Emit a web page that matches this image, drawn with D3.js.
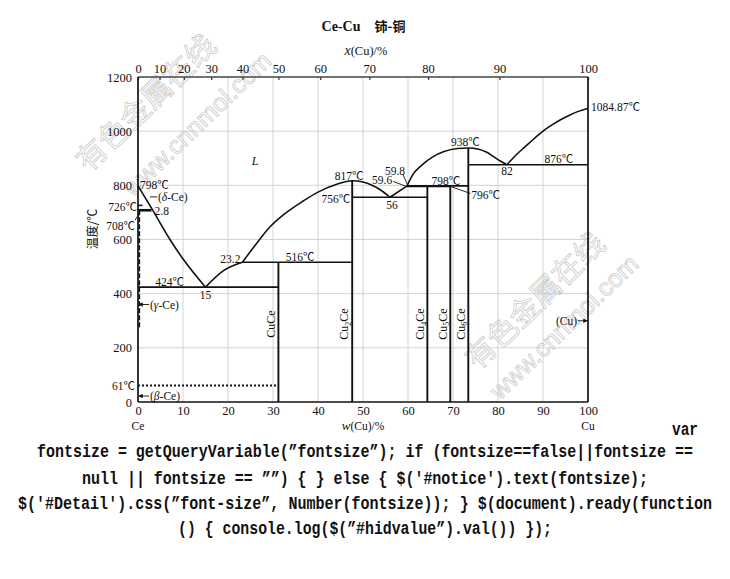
<!DOCTYPE html>
<html><head><meta charset="utf-8">
<script src="https://cdn.jsdelivr.net/npm/d3@7"></script>
<style>body{margin:0;background:#fff}</style>
</head><body>
<svg id="c" width="730" height="579"></svg>
<script>
// ---------- data ----------
const wtTicks = [0,10,20,30,40,50,60,70,80,90,100];
const atTicks = [0,10,20,30,40,50,60,70,80,90,100];
const tempTicks = [0,200,400,600,800,1000,1200];
const gridWt = [10,20,30,40,50,60,70,80,90];
const gridT = [200,400,600,800,1000];

const compounds = ["CuCe","Cu2Ce","Cu4Ce","Cu5Ce","Cu6Ce"];
const compoundWt = [31.2,47.6,64.3,69.4,73.4];
const compoundTop = [516,817,798,798,938];

const liqCe = [[0,798],[3,716],[7.1,600],[10.1,526],[15,424]];
const liq15 = [[15,424],[19,485],[23.2,516]];
const liqCu2Ce = [[23.2,516],[26,578],[29.3,646],[33,700],[36.7,742],[40,775],[44,803],[47.6,817],[50,812],[52,800],[54,782],[56,756]];
const liq56 = [[56,756],[59.8,798]];
const liqCu6Ce = [[59.8,798],[61,838],[63,874],[65.6,906],[68,925],[71,936],[73.4,938],[75.5,934],[77.5,922],[79,906],[80.5,890],[82,876]];
const liqCu = [[82,876],[84,912],[86,942],[88,972],[90,1000],[92,1023],[94,1043],[96,1060],[98,1074],[100,1085]];

// isotherms: [from wt, to wt, temperature]
const isotherms = [[0,31.2,424],[23.2,47.6,516],[47.6,64.3,756],[59.6,69.4,796],[59.8,73.4,798],[73.4,100,876],[0,3,708],[0,1,726]];
const eutectoid61 = [[0,61],[31.2,61]];
const gammaSolvus = [[0.3,708],[0.3,272]];

const annText = ["798℃","(δ-Ce)","726℃","2.8","708℃","424℃","15","23.2","516℃","817℃","756℃","56","59.6","59.8","798℃","938℃","796℃","876℃","82","1084.87℃","(γ-Ce)","61℃","(β-Ce)","(Cu)"];
const annAt = [[0,798],[0,798],[0,726],[2.8,708],[0,708],[7,424],[15,424],[23.2,516],[36,516],[47.6,817],[47.6,756],[56,756],[59.6,796],[59.8,798],[68.4,798],[73.4,938],[69.4,796],[93.5,876],[82,876],[100,1084.87],[0,360],[0,61],[0,22],[100,300]];

const title = "Ce-Cu";
const titleZh = "铈-铜";
const topTitle = "(Cu)/%";
const yTitle = "温度/℃";
const bottomTitle = "(Cu)/%";
const endLabels = ["Ce","Cu"];
const wmText = ["有色金属在线","www.cnnmol.com"];
const codeLines = [
  "var",
  "fontsize = getQueryVariable(”fontsize”); if (fontsize==false||fontsize ==",
  "null || fontsize == ””) { } else { $('#notice').text(fontsize);",
  "$('#Detail').css(”font-size”, Number(fontsize)); } $(document).ready(function",
  "() { console.log($(”#hidvalue”).val()) });"
];

// ---------- layout ----------
const annOff = [[2,-1,"start"],[20,11,"start"],[-1,2,"end"],[4,1,"start"],[-3,16,"end"],[0,-5,"middle"],[0,8,"middle"],[-2,-3,"end"],[0,-5,"middle"],[-3,-5,"middle"],[-2,2,"end"],[2,8,"middle"],[-14,-6,"end"],[-2,-15,"end"],[0,-5,"middle"],[-3,-6,"middle"],[21,9,"start"],[0,-6,"middle"],[0,6,"middle"],[3,-1.5,"start"],[12,0,"start"],[-3,0,"end"],[12,0,"start"],[-11,0,"end"]];
const codeBox = [[672,698,429],[37,693,451],[82,648,477.5],[18,712,503],[178,552,528]];
const wmPos = [[146,103,30],[197,124,25],[535,301,30],[564,327,25]];

const serif = "'Liberation Serif','Times New Roman','Noto Sans CJK SC',serif";
const svg = d3.select("#c");
svg.append("rect").attr("width",730).attr("height",579).attr("fill","#fff");

const x = d3.scaleLinear().domain([0,100]).range([138,588]);
const y = d3.scaleLinear().domain([0,1200]).range([402,77]);
const atToWt = a => a*63.546/(a*63.546+(100-a)*140.116)*100;

// grid
const grid = svg.append("g").attr("stroke","#cfcfcf").attr("stroke-width",0.9);
grid.selectAll("line.v").data(gridWt).join("line").attr("class","v")
  .attr("x1",d=>x(d)).attr("x2",d=>x(d)).attr("y1",y(0)).attr("y2",y(1200));
grid.selectAll("line.h").data(gridT).join("line").attr("class","h")
  .attr("x1",x(0)).attr("x2",x(100)).attr("y1",d=>y(d)).attr("y2",d=>y(d));

// watermark
const wm = svg.append("g").attr("fill","none").attr("stroke","#c8c8c8").attr("stroke-width",0.75);
wmPos.forEach((p,i)=>{
  wm.append("text").attr("transform",`translate(${p[0]},${p[1]}) rotate(-44)`)
    .attr("text-anchor","middle").attr("dy","0.35em")
    .style("font-family", i%2===0 ? "'Noto Sans CJK SC',sans-serif" : "'Liberation Sans',Arial,sans-serif")
    .style("font-size",p[2]+"px").text(wmText[i%2]);
});

// axes
function styleAxis(g){ g.attr("font-family",null); g.select(".domain").remove(); g.selectAll("text").style("font-family",serif).style("font-size","12.5px").attr("fill","#111"); }
svg.append("g").attr("transform",`translate(${x(0)},0)`)
  .call(d3.axisLeft(y).tickValues(tempTicks).tickFormat(d3.format("d")).tickSize(0).tickPadding(6)).call(styleAxis);
svg.append("g").attr("transform",`translate(0,${y(0)})`)
  .call(d3.axisBottom(x).tickValues(wtTicks).tickFormat(d3.format("d")).tickSize(0).tickPadding(4)).call(styleAxis);
const gTop = svg.append("g").attr("transform",`translate(0,${y(1200)})`)
  .call(d3.axisTop(x).tickValues(atTicks.map(atToWt)).tickFormat((d,i)=>atTicks[i]).tickSizeInner(-3).tickSizeOuter(0).tickPadding(4))
  .call(styleAxis);
gTop.selectAll(".tick line").attr("stroke","#333").attr("stroke-width",1.2);

// frame
const fr = svg.append("g").attr("stroke","#111").attr("stroke-width",1.7);
fr.append("line").attr("x1",x(0)).attr("x2",x(100)).attr("y1",y(1200)).attr("y2",y(1200)).attr("stroke","#444").attr("stroke-width",1.5);
fr.append("line").attr("x1",x(0)).attr("x2",x(0)).attr("y1",y(0)).attr("y2",y(1200));
fr.append("line").attr("x1",x(0)).attr("x2",x(100)).attr("y1",y(0)).attr("y2",y(0));
fr.append("line").attr("x1",x(100)).attr("x2",x(100)).attr("y1",y(0)).attr("y2",y(1200));

// phase lines
const ln = d3.line().x(d=>x(d[0])).y(d=>y(d[1]));
const pl = svg.append("g").attr("fill","none").attr("stroke","#111").attr("stroke-width",1.6);
[liqCe,liq15,liqCu2Ce,liqCu6Ce,liqCu].forEach(s=>pl.append("path").attr("d",ln.curve(d3.curveMonotoneX)(s)));
pl.append("path").attr("d",ln.curve(d3.curveLinear)(liq56));
isotherms.forEach((s,i)=>pl.append("line").attr("x1",x(s[0])).attr("x2",x(s[1])).attr("y1",y(s[2])).attr("y2",y(s[2]))
  .attr("stroke-width", i===6 ? 2.6 : 1.6));
compoundWt.forEach((w,i)=>pl.append("line").attr("x1",x(w)).attr("x2",x(w)).attr("y1",y(0)).attr("y2",y(compoundTop[i])).attr("stroke-width",1.9));
pl.append("path").attr("d",ln.curve(d3.curveLinear)(eutectoid61)).attr("stroke-dasharray","2,2").attr("stroke-width",1.8);
pl.append("path").attr("d",ln(gammaSolvus)).attr("stroke-dasharray","5,2").attr("stroke-width",1.6);

// leaders and arrows
svg.append("defs").append("marker").attr("id","ah").attr("viewBox","0 0 6 6").attr("refX",5).attr("refY",3)
  .attr("markerWidth",5).attr("markerHeight",5).attr("orient","auto")
  .append("path").attr("d","M0,0L6,3L0,6Z").attr("fill","#111");
const ld = svg.append("g").attr("stroke","#111").attr("stroke-width",0.9);
const seg = (x1,y1,x2,y2,arrow)=>{const l=ld.append("line").attr("x1",x1).attr("y1",y1).attr("x2",x2).attr("y2",y2); if(arrow) l.attr("marker-end","url(#ah)");};
seg(x(0)+12,y(798)+11,x(0)+19,y(798)+11);
seg(x(0)-3,y(708)+10,x(0)+2,y(708)+2);
seg(x(59.6)-13,y(796)-5,x(59.6),y(796));
seg(x(59.8)-4,y(798)-11,x(59.8)+0.5,y(798)-1);
seg(x(69.4)+1.5,y(796)+0.5,x(69.4)+20,y(796)+7);
seg(x(0)+11,y(360),x(0)+1,y(360),true);
seg(x(0)+11,y(22),x(0)+1,y(22),true);
seg(x(100)-10,y(300),x(100)-1,y(300),true);

// annotations
const an = svg.append("g").style("font-family",serif).style("font-size","11.5px").attr("fill","#111");
annText.forEach((t,i)=>{
  const o = annOff[i];
  const tx = an.append("text").attr("x",x(annAt[i][0])+o[0]).attr("y",y(annAt[i][1])+o[1]).attr("dy","0.35em").attr("text-anchor",o[2]);
  const m = t.match(/^\((.)(-Ce)\)$/);
  if(m && /[δγβ]/.test(m[1])){ tx.append("tspan").text("("); tx.append("tspan").style("font-style","italic").text(m[1]); tx.append("tspan").text(m[2]+")"); }
  else tx.text(t);
});
an.append("text").attr("x",x(26)).attr("y",y(890)).attr("dy","0.35em").attr("text-anchor","middle").style("font-style","italic").style("font-size","12px").text("L");

// compound labels
compounds.forEach((c,i)=>{
  const t = an.append("text").attr("transform",`translate(${x(compoundWt[i])-8},${y(288)}) rotate(-90)`).attr("text-anchor","middle").attr("dy","0.35em").style("font-size","12px");
  const mm = c.match(/^Cu(\d?)Ce$/);
  t.append("tspan").text("Cu");
  if(mm[1]) t.append("tspan").attr("dy","3").style("font-size","8px").text(mm[1]);
  t.append("tspan").attr("dy", mm[1] ? "-3" : null).text("Ce");
});

// titles
const tg = svg.append("g").attr("fill","#111");
tg.append("text").attr("x",341).attr("y",26).attr("dy","0.35em").attr("text-anchor","middle").style("font-family",serif).style("font-weight","bold").style("font-size","14px").text(title);
tg.append("text").attr("x",390).attr("y",26).attr("dy","0.35em").attr("text-anchor","middle").style("font-family","'Noto Sans CJK SC',sans-serif").style("font-weight","bold").style("font-size","13px").text(titleZh);
const tt = tg.append("text").attr("x",366).attr("y",51).attr("dy","0.35em").attr("text-anchor","middle").style("font-family",serif).style("font-size","12.5px");
tt.append("tspan").style("font-style","italic").style("font-size","14px").text("x"); tt.append("tspan").text(topTitle);
const bt = tg.append("text").attr("x",x(50)).attr("y",426).attr("dy","0.35em").attr("text-anchor","middle").style("font-family",serif).style("font-size","11.5px");
bt.append("tspan").style("font-style","italic").style("font-size","13px").text("w"); bt.append("tspan").text(bottomTitle);
[0,100].forEach((w,i)=>tg.append("text").attr("x",x(w)).attr("y",426).attr("dy","0.35em").attr("text-anchor","middle").style("font-family",serif).style("font-size","11.5px").text(endLabels[i]));
tg.append("text").attr("transform","translate(93,229) rotate(-90)").attr("text-anchor","middle").attr("dy","0.35em").style("font-family","'Noto Sans CJK SC',sans-serif").style("font-size","12px").text(yTitle);

// trailing page text
const cg = svg.append("g").attr("fill","#111").style("font-family","'Liberation Mono','DejaVu Sans Mono',monospace").style("font-weight","bold").style("font-size","14.6px");
codeLines.forEach((s,i)=>{
  const b = codeBox[i];
  cg.append("text").attr("transform",`translate(${b[0]},${b[2]}) scale(1,1.2)`).attr("dy","0.35em").attr("textLength",b[1]-b[0]).attr("lengthAdjust","spacingAndGlyphs").attr("xml:space","preserve").text(s);
});
</script>
</body></html>
